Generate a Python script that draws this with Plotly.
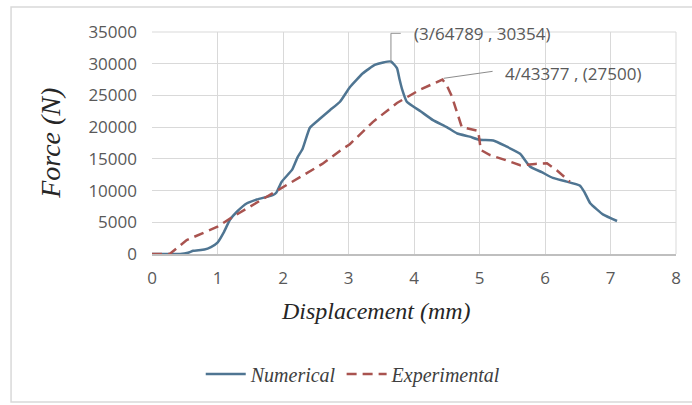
import plotly.graph_objects as go

num_x = [0, 0.2, 0.43, 0.55, 0.63, 0.8, 0.9, 1.0, 1.1, 1.19, 1.3, 1.45, 1.6, 1.75, 1.85, 1.9, 1.98, 2.14, 2.22,
         2.3, 2.41, 2.55, 2.72, 2.87, 3.02, 3.22, 3.4, 3.53, 3.64789, 3.74, 3.78, 3.82, 3.89, 4.1, 4.29, 4.5,
         4.66, 4.85, 5.0, 5.21, 5.4, 5.62, 5.77, 5.95, 6.12, 6.3, 6.53, 6.6, 6.69, 6.89, 7.1]
num_y = [0, 0, 0, 200, 500, 700, 1100, 1800, 3500, 5400, 6700, 8000, 8600, 9000, 9300, 9700, 11400, 13300, 15200,
         16600, 19900, 21200, 22700, 24000, 26300, 28500, 29800, 30200, 30354, 29300, 27500, 25900, 24000, 22500,
         21100, 20000, 19000, 18500, 18000, 17900, 17000, 15800, 13800, 12900, 12000, 11500, 10800, 9800, 8000,
         6200, 5200]

exp_x = [0, 0.27, 0.53, 1.0, 1.24, 1.5, 1.85, 2.26, 2.6, 2.9, 3.02, 3.37, 3.74, 4.09, 4.43377, 4.5, 4.58, 4.73,
         4.85, 4.98, 5.02, 5.16, 5.4, 5.62, 5.85, 6.03, 6.18, 6.38]
exp_y = [0, 0, 2200, 4300, 5900, 7500, 9600, 12200, 14200, 16500, 17300, 20800, 23800, 25900, 27500, 26600, 24800,
         20000, 19700, 19400, 16400, 15600, 14800, 14000, 14200, 14300, 13200, 11400]

num_label = "(3/64789 , 30354)"
exp_label = "4/43377 , (27500)"
num_peak = (3.64789, 30354)
exp_peak = (4.43377, 27500)

x_ticks = list(range(0, 9))
y_ticks = list(range(0, 35001, 5000))

serif = "Liberation Serif"
sans = "Open Sans"
grey = "#595959"

fig = go.Figure()
fig.add_trace(go.Scatter(x=num_x, y=num_y, mode="lines", name="<i>Numerical</i>",
                         line=dict(color="#4F7592", width=2.5, shape="spline", smoothing=0.4)))
fig.add_trace(go.Scatter(x=exp_x, y=exp_y, mode="lines", name="<i>Experimental</i>",
                         line=dict(color="#A9534F", width=2.5, dash="10px,6px")))

# leader lines
fig.add_shape(type="line", x0=num_peak[0], y0=num_peak[1], x1=num_peak[0], y1=34800,
              line=dict(color="#8C8C8C", width=1))
fig.add_shape(type="line", x0=num_peak[0], y0=34800, x1=num_peak[0] + 0.15, y1=34800,
              line=dict(color="#8C8C8C", width=1))
fig.add_shape(type="line", x0=exp_peak[0] + 0.02, y0=exp_peak[1] + 200, x1=5.2, y1=28800,
              line=dict(color="#8C8C8C", width=1))

fig.add_annotation(x=num_peak[0] + 0.32, y=34800, text=num_label, showarrow=False, xanchor="left",
                   yanchor="middle", font=dict(family=sans, size=17, color=grey))
fig.add_annotation(x=5.36, y=28400, text=exp_label, showarrow=False, xanchor="left",
                   yanchor="middle", font=dict(family=sans, size=17, color=grey))

# axis titles (placed as in the reference)
fig.add_annotation(xref="paper", yref="paper", x=0.4275, y=-0.257, text="<i>Displacement (mm)</i>",
                   showarrow=False, xanchor="center", yanchor="middle",
                   font=dict(family=serif, size=24, color="#262626"))
fig.add_annotation(xref="paper", yref="paper", x=-0.195, y=0.5, text="<i>Force (N)</i>", textangle=-90,
                   showarrow=False, xanchor="center", yanchor="middle",
                   font=dict(family=serif, size=28, color="#262626"))

# outer frame
fig.add_shape(type="rect", xref="paper", yref="paper", x0=-0.269, x1=1.2, y0=-0.667, y1=1.113,
              line=dict(color="#D9D9D9", width=1.5), layer="below")

fig.update_layout(
    width=692, height=405,
    margin=dict(l=152, r=16, t=32, b=151),
    paper_bgcolor="white", plot_bgcolor="white",
    showlegend=True,
    legend=dict(orientation="h", x=0.385, y=-0.54, xanchor="center", yanchor="middle",
                font=dict(family=serif, size=20, color="#404040"), itemwidth=40,
                bgcolor="rgba(0,0,0,0)"),
    xaxis=dict(range=[0, 8], tickvals=x_ticks, showgrid=True, gridcolor="#D9D9D9", gridwidth=1,
               zeroline=False, showline=True, linecolor="#BFBFBF", linewidth=1.5,
               tickfont=dict(family=sans, size=17, color=grey), ticks="", ticklabelstandoff=8),
    yaxis=dict(range=[0, 35000], tickvals=y_ticks, ticktext=[str(v) for v in y_ticks],
               showgrid=True, gridcolor="#D9D9D9", gridwidth=1,
               zeroline=False, showline=False, ticks="", ticklabelstandoff=14,
               tickfont=dict(family=sans, size=17, color=grey)),
)
fig.add_shape(type="line", xref="paper", yref="paper", x0=1, x1=1, y0=0, y1=1,
              line=dict(color="#D9D9D9", width=1))
fig.add_shape(type="line", xref="paper", yref="paper", x0=0, x1=1, y0=1, y1=1,
              line=dict(color="#D9D9D9", width=1))

fig.write_html("out.html")
